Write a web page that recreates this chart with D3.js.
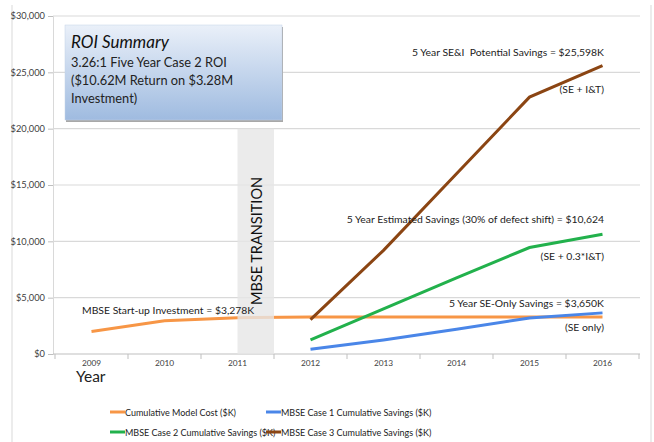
<!DOCTYPE html>
<html>
<head>
<meta charset="utf-8">
<script src="https://cdn.jsdelivr.net/npm/d3@7"></script>
<style>
  body { margin: 0; background: #fff; }
  text { font-family: Lato, "Open Sans", sans-serif; }
</style>
</head>
<body>
<script>
var years = ['2009', '2010', '2011', '2012', '2013', '2014', '2015', '2016'],
    costYears = ['2009', '2010', '2011', '2012', '2013', '2014', '2015', '2016'],
    costValues = [2000, 2950, 3220, 3278, 3278, 3278, 3278, 3278],
    savingsYears = ['2012', '2013', '2014', '2015', '2016'],
    case1Values = [420, 1250, 2200, 3200, 3650],
    case2Values = [1250, 4000, 6750, 9450, 10624],
    case3Values = [3050, 9200, 16000, 22800, 25598],
    yTicks = [0, 5000, 10000, 15000, 20000, 25000, 30000],
    seriesNames = ['Cumulative Model Cost ($K)', 'MBSE Case 1 Cumulative Savings ($K)',
                   'MBSE Case 2 Cumulative Savings ($K)', 'MBSE Case 3 Cumulative Savings ($K)'],
    colors = ['#f79646', '#4a86e8', '#22b14c', '#8b4513'];

var width = 654, height = 442, x, y, svg, line, series;

x = d3.scaleBand().domain(years).range([55, 639]);
y = d3.scaleLinear().domain([0, 30000]).range([354, 16]);

svg = d3.select("body").append("svg").attr("width", width).attr("height", height);

// outer frame
svg.append("line").attr("x1", 12).attr("x2", 12).attr("y1", 5).attr("y2", height).attr("stroke", "#d9d9d9");
svg.append("line").attr("x1", 651).attr("x2", 651).attr("y1", 5).attr("y2", height).attr("stroke", "#d9d9d9");

// grid
svg.append("g").selectAll("line").data(yTicks.slice(1)).enter().append("line")
  .attr("x1", 53).attr("x2", 640)
  .attr("y1", function (d) { return y(d); }).attr("y2", function (d) { return y(d); })
  .attr("stroke", "#d9d9d9").attr("stroke-width", 1.2);

// y axis
var yAxis = d3.axisLeft(y).tickValues(yTicks).tickSize(5).tickFormat(function (d) { return "$" + d3.format(",")(d); });
var gy = svg.append("g").attr("transform", "translate(53,0)").call(yAxis);
gy.select(".domain").attr("stroke", "#d9d9d9");
gy.selectAll(".tick line").attr("stroke", "#bfbfbf");
gy.selectAll("text").attr("font-size", 9.3).attr("fill", "#404040").attr("x", -8);

// x axis
var xAxis = d3.axisBottom(x).tickSize(0);
var gx = svg.append("g").attr("transform", "translate(0,354)").call(xAxis);
gx.select(".domain").attr("stroke", "#bfbfbf").attr("d", "M53,0H640");
gx.selectAll("text").attr("font-size", 8.3).attr("fill", "#404040").attr("dy", "1.1em");
svg.append("g").selectAll("line").data(years.concat(['end'])).enter().append("line")
  .attr("x1", function (d, i) { return 55 + i * x.bandwidth(); })
  .attr("x2", function (d, i) { return 55 + i * x.bandwidth(); })
  .attr("y1", 354).attr("y2", 359).attr("stroke", "#bfbfbf");

svg.append("text").attr("x", 76).attr("y", 382).attr("font-size", 15.5).attr("fill", "#222").text("Year");

// lines
line = d3.line()
  .x(function (d) { return x(d[0]) + x.bandwidth() / 2; })
  .y(function (d) { return y(d[1]); });

series = [
  d3.zip(costYears, costValues),
  d3.zip(savingsYears, case1Values),
  d3.zip(savingsYears, case2Values),
  d3.zip(savingsYears, case3Values)
];

series.forEach(function (s, i) {
  svg.append("path").attr("d", line(s)).attr("fill", "none")
    .attr("stroke", colors[i]).attr("stroke-width", 3);
});

// transition band (over the cost line, as in the original)
svg.append("rect")
  .attr("x", x('2011') + x.bandwidth() / 2).attr("y", y(20000))
  .attr("width", x.bandwidth() / 2).attr("height", y(0) - y(20000))
  .attr("fill", "#e6e6e6").attr("opacity", 0.8);

// MBSE TRANSITION label
svg.append("text")
  .attr("transform", "translate(262,241) rotate(-90)")
  .attr("text-anchor", "middle").attr("font-size", 14.5).attr("fill", "#111")
  .text("MBSE TRANSITION");

// annotations
var ann = [
  [604, 56, "5 Year SE&I\u00a0\u00a0Potential Savings = $25,598K", "end"],
  [604, 93, "(SE + I&T)", "end"],
  [604, 223, "5 Year Estimated Savings (30% of defect shift) = $10,624", "end"],
  [604, 260, "(SE + 0.3*I&T)", "end"],
  [604, 307, "5 Year SE-Only Savings = $3,650K", "end"],
  [604, 331, "(SE only)", "end"],
  [82, 314, "MBSE Start-up Investment = $3,278K", "start"]
];
svg.append("g").selectAll("text").data(ann).enter().append("text")
  .attr("x", function (d) { return d[0]; }).attr("y", function (d) { return d[1]; })
  .attr("text-anchor", function (d) { return d[3]; })
  .attr("font-size", 10.4).attr("fill", "#222")
  .text(function (d) { return d[2]; });

// ROI summary box
var defs = svg.append("defs");
var grad = defs.append("linearGradient").attr("id", "roi").attr("x1", 0).attr("x2", 0).attr("y1", 0).attr("y2", 1);
grad.append("stop").attr("offset", "0%").attr("stop-color", "#eaf0f9");
grad.append("stop").attr("offset", "100%").attr("stop-color", "#9fbbe0");
svg.append("rect").attr("x", 66).attr("y", 27).attr("width", 217).attr("height", 95).attr("fill", "#a8a8a8");
svg.append("rect").attr("x", 65).attr("y", 25).attr("width", 217).attr("height", 95)
  .attr("fill", "url(#roi)").attr("stroke", "#c4d2e6").attr("stroke-width", 0.5);
svg.append("text").attr("x", 71).attr("y", 48).attr("font-size", 17).attr("font-style", "italic")
  .attr("fill", "#111").text("ROI Summary");
var roiLines = ["3.26:1 Five Year Case 2 ROI", "($10.62M Return on $3.28M", "Investment)"];
svg.append("g").selectAll("text").data(roiLines).enter().append("text")
  .attr("x", 71).attr("y", function (d, i) { return 67 + i * 18; })
  .attr("font-size", 12.8).attr("fill", "#222").text(function (d) { return d; });

// legend
var legPos = [[110, 412], [266, 412], [110, 432], [266, 432]];
var leg = svg.append("g").selectAll("g").data(seriesNames).enter().append("g")
  .attr("transform", function (d, i) { return "translate(" + legPos[i][0] + "," + legPos[i][1] + ")"; });
leg.append("line").attr("x1", 0).attr("x2", 15).attr("stroke-width", 3)
  .attr("stroke", function (d, i) { return colors[i]; });
leg.append("text").attr("x", 15).attr("y", 3.5).attr("font-size", 9).attr("fill", "#222")
  .text(function (d) { return d; });
</script>
</body>
</html>
